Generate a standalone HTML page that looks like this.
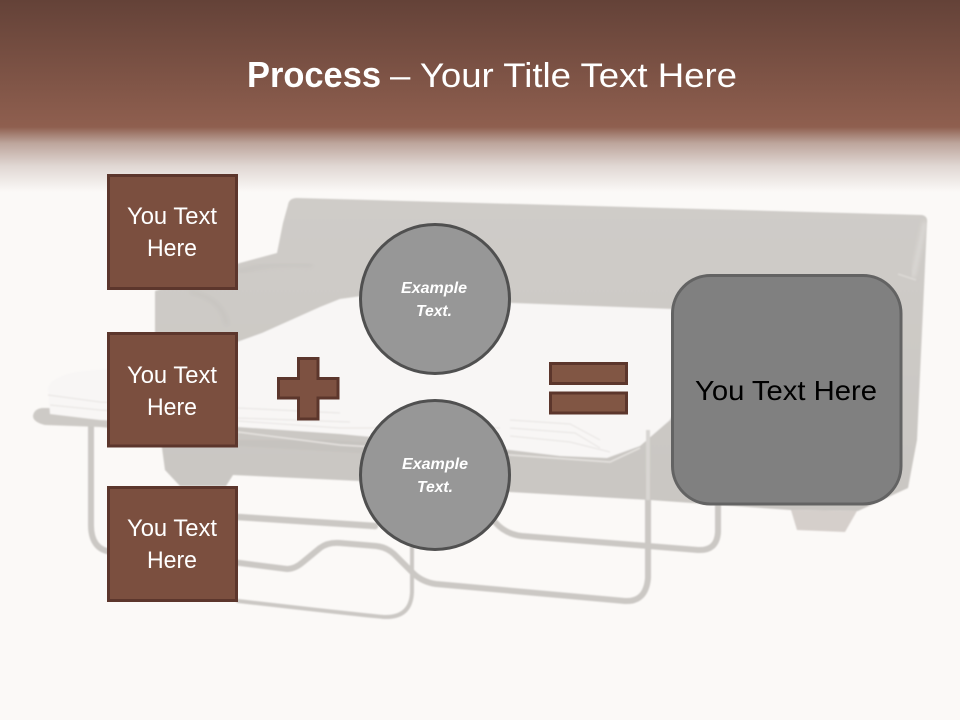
<!DOCTYPE html>
<html>
<head>
<meta charset="utf-8">
<style>
html,body{margin:0;padding:0;background:#fbf9f7;width:960px;height:720px;overflow:hidden}
svg{display:block}
text{font-family:"Liberation Sans",sans-serif}
</style>
</head>
<body>
<svg width="960" height="720" viewBox="0 0 960 720" xmlns="http://www.w3.org/2000/svg">
<defs>
<linearGradient id="h1" x1="0" y1="0" x2="0" y2="1">
<stop offset="0" stop-color="#644238"/><stop offset="1" stop-color="#8f5f4f"/>
</linearGradient>
<linearGradient id="h2" x1="0" y1="0" x2="0" y2="1">
<stop offset="0" stop-color="#8f5f4f"/><stop offset="0.25" stop-color="#bda59c"/><stop offset="0.6" stop-color="#e0d7d3"/><stop offset="1" stop-color="#fbf9f7"/>
</linearGradient>
<linearGradient id="body" x1="0" y1="0" x2="0" y2="1">
<stop offset="0" stop-color="#cfccc8"/><stop offset="1" stop-color="#c9c6c2"/>
</linearGradient>
<filter id="soft" x="-5%" y="-5%" width="110%" height="110%"><feGaussianBlur stdDeviation="0.7"/></filter>
<filter id="softer" x="-10%" y="-10%" width="120%" height="120%"><feGaussianBlur stdDeviation="2"/></filter>
</defs>
<rect width="960" height="720" fill="#fbf9f7"/>
<rect width="960" height="127" fill="url(#h1)"/>
<rect y="127" width="960" height="65" fill="url(#h2)"/>

<g filter="url(#soft)">
<!-- frame -->
<g fill="none" stroke="#cbc8c4" stroke-linecap="round" stroke-linejoin="round">
<path d="M91,422 L91,525 Q91,550 112,552 L240,563 L287,569 Q295,569 303,562 L320,548 Q328,542 340,543 L376,546 Q386,547 394,554 L413,573 Q422,582 436,584 L625,601 Q646,602 648,578 L648,495" stroke-width="6"/>
<path d="M238,517 L375,526" stroke-width="6.500"/>
<path d="M495,522 Q505,534 522,536 L698,550 Q717,551 718,532 L718,500" stroke-width="6"/>
<path d="M412,540 L412,592 Q411,618 384,617 Q360,615 238,601" stroke-width="4"/>
</g>

<!-- sofa body -->
<path d="M288,205 Q289,198 297,198 L922,215 Q928,216 927,223 L917,440 L908,488 L858,511 L790,510 L650,500 L510,492 L360,481 L233,475 L226,486 L180,486 L165,470 L162,448 L155,420 L155,291 L240,263 L277,253 L283,223 Z" fill="url(#body)"/>
<path d="M791,510 L797,530 L845,532 L857,511 Z" fill="#d5cfcb"/>
<path d="M925,222 L913,277" stroke="#e0ddda" stroke-width="3" fill="none" filter="url(#softer)"/>
<path d="M898,274 L916,280" stroke="#dcd9d6" stroke-width="1.500" fill="none"/>
<path d="M190,292 Q222,298 227,325" fill="none" stroke="#c5c2be" stroke-width="3" filter="url(#softer)"/>
<path d="M238,272 Q270,262 312,265" fill="none" stroke="#c6c3bf" stroke-width="3" filter="url(#softer)"/>

<!-- fold-out bar -->
<path d="M42,408 L110,408 L240,432 L240,440 L100,427 L45,425 Q33,422 33,416 Q34,409 42,408 Z" fill="#cdcac6"/>
<path d="M238,440 L330,440 L510,452 L510,462 L238,446 Z" fill="#c6c3bf"/>

<!-- mattress -->
<path d="M48,388 Q50,378 75,372 L150,364 L237,342 L262,333 L320,307 L340,299 L362,296 L513,303 L672,309 L680,400 L670,420 L640,446 L607,458 L560,456 L510,450 L340,434 L238,427 L100,420 L50,414 Z" fill="#f8f6f5"/>
<g fill="none" stroke="#eae7e5" stroke-width="1.200">
<path d="M48,395 L100,402 L238,408 L340,413"/>
<path d="M50,405 L100,410 L238,418 L350,422"/>
<path d="M238,421 L340,428 L500,428"/>
<path d="M510,420 L570,424 L600,440"/>
<path d="M510,428 L575,433 L600,448"/>
<path d="M510,436 L570,442 L610,452"/>
</g>
<path d="M238,432 L340,445 L510,455 L610,462 L640,448" fill="none" stroke="#e6e3e0" stroke-width="1.500"/>
<path d="M648,430 L648,500" stroke="#d8d5d2" stroke-width="4" fill="none"/>
</g>

<!-- left boxes -->
<g fill="#7b4f3f" stroke="#5c362c" stroke-width="3">
<rect x="108.500" y="175.500" width="128" height="113"/>
<rect x="108.500" y="333.500" width="128" height="112.500"/>
<rect x="108.500" y="487.500" width="128" height="113"/>
</g>
<g fill="#fff" font-size="24">
<text x="127" y="224" textLength="90" lengthAdjust="spacingAndGlyphs">You Text</text>
<text x="147" y="256" textLength="50" lengthAdjust="spacingAndGlyphs">Here</text>
<text x="127" y="383" textLength="90" lengthAdjust="spacingAndGlyphs">You Text</text>
<text x="147" y="415" textLength="50" lengthAdjust="spacingAndGlyphs">Here</text>
<text x="127" y="536" textLength="90" lengthAdjust="spacingAndGlyphs">You Text</text>
<text x="147" y="568" textLength="50" lengthAdjust="spacingAndGlyphs">Here</text>
</g>

<!-- plus -->
<path d="M298.500,358.500 H318 V378.500 H338 V398 H318 V419 H298.500 V398 H278.500 V378.500 H298.500 Z" fill="#7d5141" stroke="#5c362c" stroke-width="3"/>

<!-- equals -->
<g fill="#815644" stroke="#5c362c" stroke-width="3">
<rect x="550.500" y="363.500" width="76" height="20"/>
<rect x="550.500" y="393" width="76" height="20"/>
</g>

<!-- circles -->
<g fill="#979797" stroke="#505050" stroke-width="3">
<circle cx="435" cy="299" r="74.500"/>
<circle cx="435" cy="475" r="74.500"/>
</g>
<g fill="#fff" font-size="16" font-weight="bold" font-style="italic">
<text x="401" y="293" textLength="66" lengthAdjust="spacingAndGlyphs">Example</text>
<text x="416" y="316" textLength="36" lengthAdjust="spacingAndGlyphs">Text.</text>
<text x="402" y="469" textLength="66" lengthAdjust="spacingAndGlyphs">Example</text>
<text x="417" y="492" textLength="36" lengthAdjust="spacingAndGlyphs">Text.</text>
</g>

<!-- result -->
<rect x="672.500" y="275.500" width="228.500" height="228.500" rx="38" ry="38" fill="#808080" stroke="#636363" stroke-width="3"/>
<text x="695" y="400" font-size="28" fill="#000" textLength="182" lengthAdjust="spacingAndGlyphs">You Text Here</text>

<!-- title -->
<text x="247" y="87" font-size="36" font-weight="bold" fill="#fff" textLength="134" lengthAdjust="spacingAndGlyphs">Process</text>
<text x="390" y="87" font-size="34" fill="#fff" textLength="347" lengthAdjust="spacingAndGlyphs">– Your Title Text Here</text>
</svg>
</body>
</html>
